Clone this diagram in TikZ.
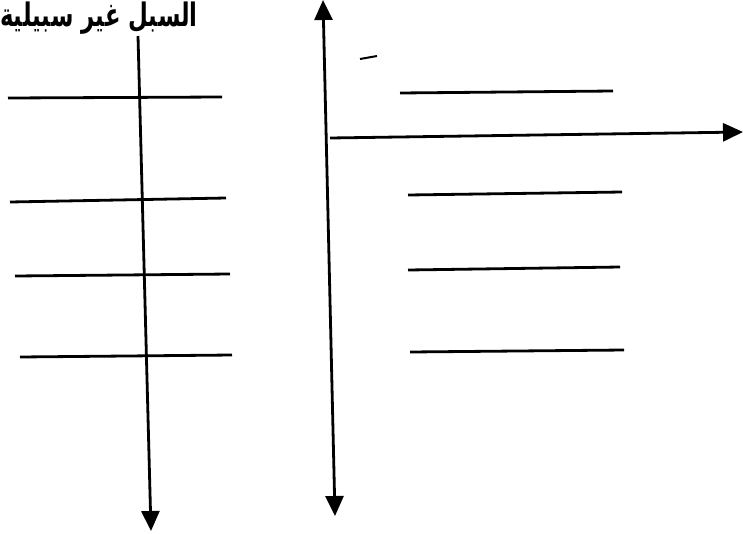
\documentclass[tikz,border=0pt]{standalone}
\usepackage{fontspec}
\usepackage{graphicx}
\newfontfamily\arabicfont[Script=Arabic]{DejaVu Sans}
\TeXXeTstate=1
\usetikzlibrary{arrows.meta}
\begin{document}
\begin{tikzpicture}[x=1pt,y=-1pt,
  ln/.style={line width=2.8pt},
  tip/.style={-{Triangle[length=20pt,width=18pt]}},
  tips/.style={{Triangle[length=20pt,width=18pt]}-{Triangle[length=20pt,width=18pt]}}]
\useasboundingbox (0,0) rectangle (743,533);
\clip (0,0) rectangle (743,533);
% title
\node[anchor=base east, inner sep=0pt, font=\arabicfont\bfseries\fontsize{24}{24}\selectfont] (title) at (198,26) {\scalebox{0.95}[1.35]{\beginR السبل غير سبيلية\endR}};
% left vertical arrow
\coordinate (la) at (138,36);
\coordinate (lb) at (151,531);
\draw[ln,tip] (la) -- (lb);
% left horizontal lines
\coordinate (l1a) at (8,98); \coordinate (l1b) at (222,97);
\coordinate (l2a) at (10,202); \coordinate (l2b) at (226,198);
\coordinate (l3a) at (15,276); \coordinate (l3b) at (230,274);
\coordinate (l4a) at (20,357); \coordinate (l4b) at (232,355);
\foreach \i in {1,...,4} \draw[ln] (l\i a) -- (l\i b);
% middle double arrow
\coordinate (ma) at (323,0);
\coordinate (mb) at (335,516);
\draw[ln,tips] (ma) -- (mb);
% horizontal arrow
\coordinate (ha) at (330,138);
\coordinate (hb) at (743,132);
\draw[ln,tip] (ha) -- (hb);
% small dash
\coordinate (da) at (360,59); \coordinate (db) at (377,56);
\draw[line width=2pt] (da) -- (db);
% right horizontal lines
\coordinate (r1a) at (400,93); \coordinate (r1b) at (613,91);
\coordinate (r2a) at (408,195); \coordinate (r2b) at (622,192);
\coordinate (r3a) at (408,270); \coordinate (r3b) at (620,267);
\coordinate (r4a) at (410,352); \coordinate (r4b) at (624,350);
\foreach \i in {1,...,4} \draw[ln] (r\i a) -- (r\i b);
\end{tikzpicture}
\end{document}
